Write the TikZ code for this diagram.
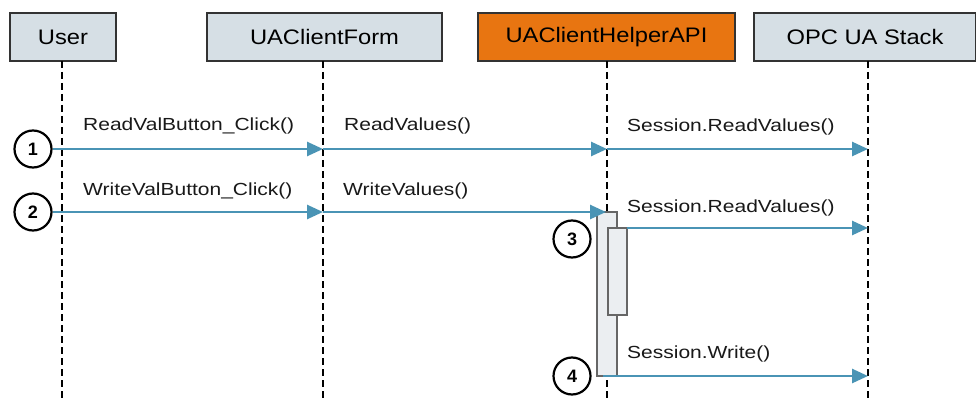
\documentclass[tikz,border=0pt]{standalone}
\usepackage{fontspec}
\setmainfont{Liberation Sans}
\usetikzlibrary{arrows.meta}
\definecolor{boxfill}{HTML}{D6DFE5}
\definecolor{orangefill}{HTML}{E87511}
\definecolor{msg}{HTML}{4A94B5}
\definecolor{actfill}{HTML}{EBEEF1}
\newcommand{\boxtxt}[1]{\scalebox{1.13}[1]{\fontsize{21}{24}\selectfont #1}}
\newcommand{\msgtxt}[1]{\scalebox{1.2}[1]{\fontsize{17.5}{20}\selectfont #1}}
\begin{document}
\begin{tikzpicture}[x=1pt,y=-1pt,
  headbox/.style={draw=black!80,line width=1.2pt,fill=boxfill,inner sep=0pt},
  lifeline/.style={draw=black,line width=2.3pt,dash pattern=on 7pt off 4pt},
  msgarrow/.style={draw=msg,line width=2.6pt,-{Triangle[length=16pt,width=14pt]},shorten >=0pt},
  msglabel/.style={anchor=base west,inner sep=0pt,text=black!90},
  stepnum/.style={circle,draw=black,line width=2.2pt,fill=white,minimum size=37pt,inner sep=0pt,font=\bfseries\fontsize{18}{20}\selectfont},
  actbox/.style={draw=black!60,line width=1.2pt,fill=actfill,inner sep=0pt}]
\useasboundingbox (0,0) rectangle (976,398);
\fill[white] (0,0) rectangle (976,398);
% header boxes
\node[headbox,minimum width=106pt,minimum height=48pt] (user) at (63,37) {\boxtxt{User}};
\node[headbox,minimum width=235pt,minimum height=48pt] (form) at (324.5,37) {\boxtxt{UAClientForm}};
\node[headbox,fill=orangefill,minimum width=257pt,minimum height=48pt] (helper) at (606.5,37) {\boxtxt{UAClientHelperAPI}};
\node[headbox,minimum width=222pt,minimum height=48pt] (stack) at (865,37) {\boxtxt{OPC UA Stack}};
% lifeline ends
\coordinate (userend) at (62,398);
\coordinate (formend) at (323,398);
\coordinate (helperend) at (607,398);
\coordinate (stackend) at (868,398);
\coordinate (usertop) at (62,61);
\coordinate (formtop) at (323,61);
\coordinate (helpertop) at (607,61);
\coordinate (stacktop) at (868,61);
\draw[lifeline] (usertop) -- (userend);
\draw[lifeline] (formtop) -- (formend);
\draw[lifeline] (helpertop) -- (helperend);
\draw[lifeline] (stacktop) -- (stackend);
% activation boxes
\node[actbox,minimum width=20pt,minimum height=164pt] (act) at (607,294) {};
\node[actbox,minimum width=19pt,minimum height=87pt] (act2) at (617.5,271.5) {};
% step circles
\node[stepnum] (s1) at (33,149) {1};
\node[stepnum] (s2) at (33,212) {2};
\node[stepnum] (s3) at (572,239) {3};
\node[stepnum] (s4) at (572,376) {4};
% message points
\coordinate (f1) at (323,149);
\coordinate (h1) at (607,149);
\coordinate (k1) at (868,149);
\coordinate (f2) at (323,212);
\coordinate (h2) at (606,212);
\coordinate (a3) at (627,228);
\coordinate (k3) at (868,228);
\coordinate (a4) at (603,376);
\coordinate (k4) at (868,376);
% messages
\draw[msgarrow] (s1.east) -- (f1);
\draw[msgarrow] (f1) -- (h1);
\draw[msgarrow] (h1) -- (k1);
\draw[msgarrow] (s2.east) -- (f2);
\draw[msgarrow] (f2) -- (h2);
\draw[msgarrow] (a3) -- (k3);
\draw[msgarrow] (a4) -- (k4);
% labels
\node[msglabel] (l1) at (83,131) {\msgtxt{ReadValButton\_Click()}};
\node[msglabel] (l2) at (344,131) {\msgtxt{ReadValues()}};
\node[msglabel] (l3) at (627,132) {\msgtxt{Session.ReadValues()}};
\node[msglabel] (l4) at (83,196) {\msgtxt{WriteValButton\_Click()}};
\node[msglabel] (l5) at (343,195) {\msgtxt{WriteValues()}};
\node[msglabel] (l6) at (627,212) {\msgtxt{Session.ReadValues()}};
\node[msglabel] (l7) at (627,358) {\msgtxt{Session.Write()}};
\end{tikzpicture}
\end{document}
